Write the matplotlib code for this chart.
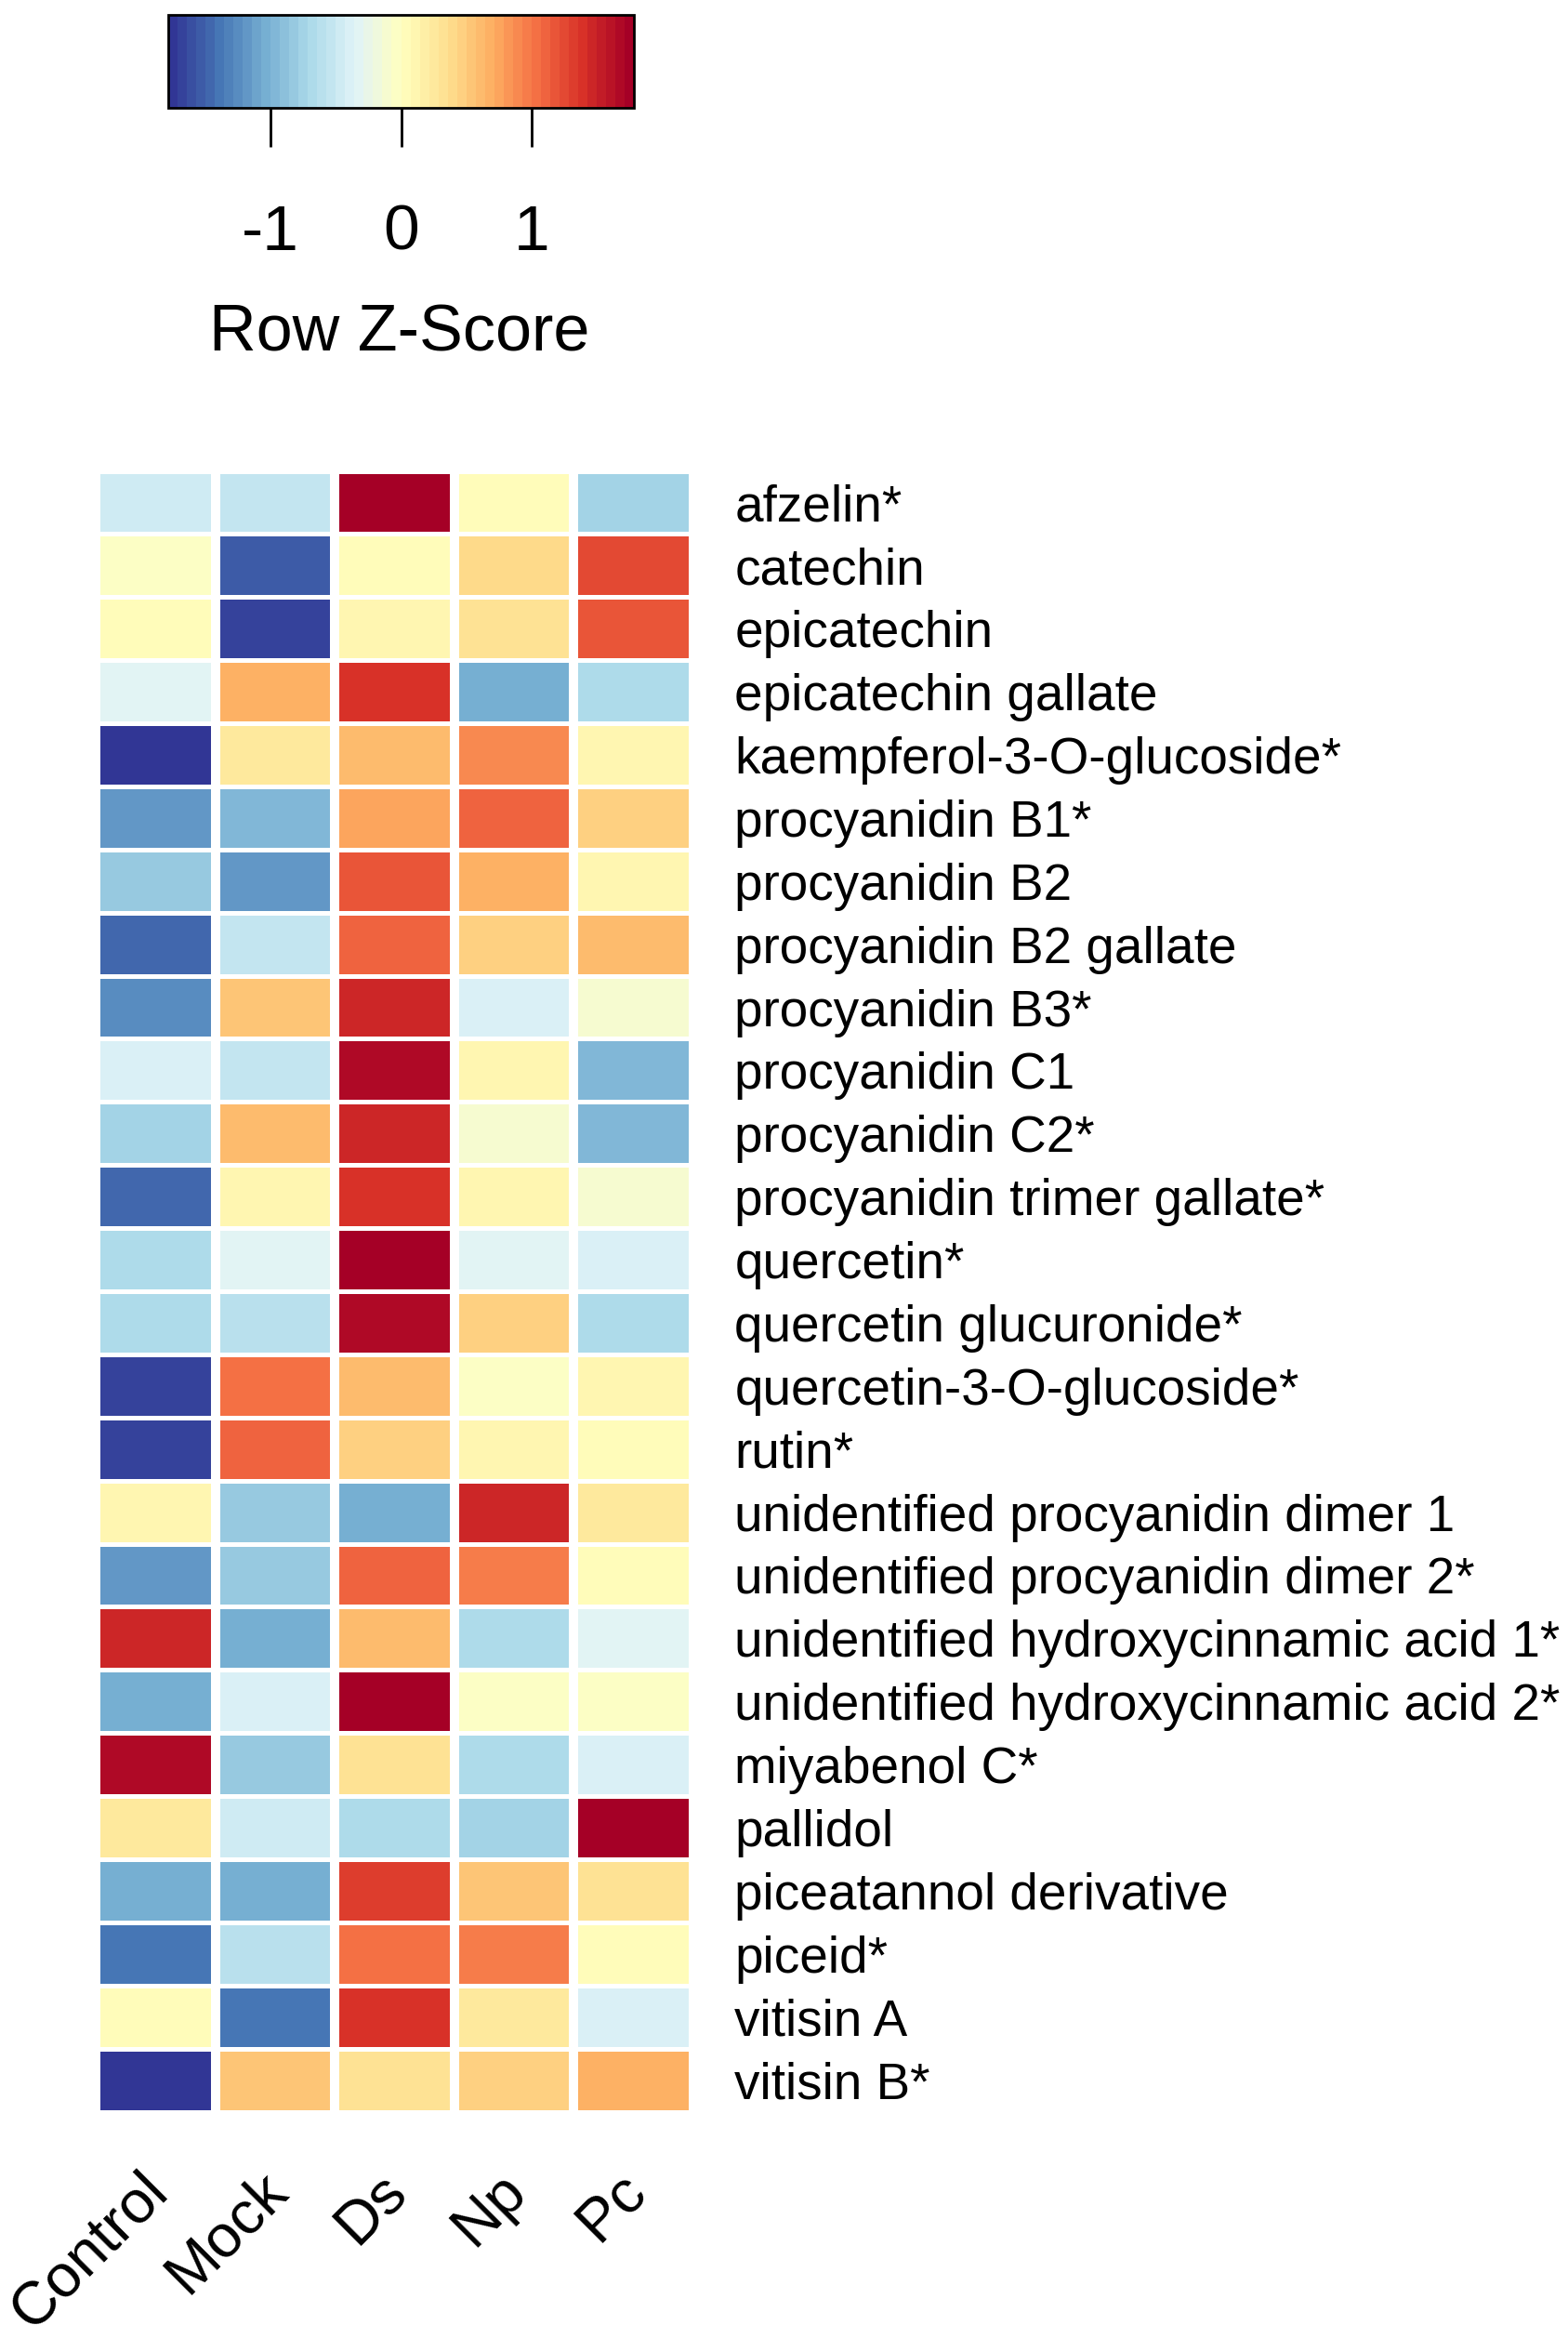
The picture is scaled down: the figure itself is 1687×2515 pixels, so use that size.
import matplotlib.pyplot as plt
import numpy as np
from matplotlib.colors import ListedColormap, Normalize
from matplotlib.transforms import ScaledTranslation

plt.rcParams['font.family'] = ['Liberation Sans', 'DejaVu Sans']

# ----- data (row z-scores) -----
groups = ["Control", "Mock", "Ds", "Np", "Pc"]

compounds = [
    "afzelin*", "catechin", "epicatechin", "epicatechin gallate",
    "kaempferol-3-O-glucoside*", "procyanidin B1*", "procyanidin B2",
    "procyanidin B2 gallate", "procyanidin B3*", "procyanidin C1",
    "procyanidin C2*", "procyanidin trimer gallate*", "quercetin*",
    "quercetin glucuronide*", "quercetin-3-O-glucoside*", "rutin*",
    "unidentified procyanidin dimer 1", "unidentified procyanidin dimer 2*",
    "unidentified hydroxycinnamic acid 1*", "unidentified hydroxycinnamic acid 2*",
    "miyabenol C*", "pallidol", "piceatannol derivative", "piceid*",
    "vitisin A", "vitisin B*",
]

z_control = [-0.45, -0.07, 0.00, -0.34, -1.78, -1.17, -0.82, -1.46, -1.28, -0.36,
             -0.75, -1.46, -0.68, -0.68, -1.64, -1.70, 0.14, -1.17, 1.45, -1.03,
             1.64, 0.25, -1.03, -1.42, 0.04, -1.78]
z_mock = [-0.53, -1.53, -1.64, 0.71, 0.28, -0.96, -1.17, -0.53, 0.50, -0.53,
          0.57, 0.14, -0.34, -0.57, 1.00, 1.07, -0.82, -0.82, -1.03, -0.38,
          -0.82, -0.45, -1.03, -0.57, -1.42, 0.50]
z_ds = [1.78, 0.00, 0.14, 1.42, 0.57, 0.78, 1.18, 1.07, 1.45, 1.64,
        1.45, 1.40, 1.78, 1.64, 0.64, 0.43, -1.03, 1.07, 0.57, 1.71,
        0.32, -0.68, 1.32, 1.00, 1.40, 0.32]
z_np = [0.07, 0.36, 0.32, -1.03, 0.89, 1.07, 0.71, 0.43, -0.38, 0.14,
        -0.14, 0.10, -0.34, 0.43, -0.05, 0.14, 1.45, 0.96, -0.68, -0.07,
        -0.68, -0.75, 0.50, 0.96, 0.28, 0.43]
z_pc = [-0.75, 1.25, 1.18, -0.68, 0.14, 0.43, 0.14, 0.64, -0.14, -0.96,
        -0.96, -0.14, -0.38, -0.68, 0.14, 0.07, 0.25, 0.07, -0.34, -0.07,
        -0.38, 1.71, 0.32, 0.07, -0.38, 0.71]

zlim = 1.78
ticks = [-1, 0, 1]

matrix = np.column_stack([z_control, z_mock, z_ds, z_np, z_pc])

# ----- figure -----
W, H, DPI = 1687, 2515, 100
fig = plt.figure(figsize=(W / DPI, H / DPI), dpi=DPI)

def px_axes(left, top, right, bottom):
    # axes from pixel box (origin top-left)
    return fig.add_axes([left / W, 1 - bottom / H, (right - left) / W, (bottom - top) / H])

cmap = ListedColormap(plt.get_cmap("RdYlBu_r")(np.linspace(0, 1, 50)))
norm = Normalize(vmin=-zlim, vmax=zlim)

# heatmap
ax = px_axes(103, 506.5, 746, 2271.5)
n_rows, n_cols = matrix.shape
mesh = ax.pcolormesh(np.arange(n_cols + 1), np.arange(n_rows + 1), matrix,
                     cmap=cmap, norm=norm)
ax.set_xlim(0, n_cols)
ax.set_ylim(n_rows, 0)

# white separators between cells
for x in range(n_cols + 1):
    ax.axvline(x, color="white", lw=7.2)
for y in range(n_rows + 1):
    ax.axhline(y, color="white", lw=3.6)

for s in ax.spines.values():
    s.set_visible(False)

ax.yaxis.tick_right()
ax.set_yticks(np.arange(n_rows) + 0.5)
ax.set_yticklabels(compounds, fontsize=39.5)
ax.tick_params(axis="y", length=0, pad=32)

ax.set_xticks(np.arange(n_cols) + 0.5)
ax.set_xticklabels(groups, fontsize=47, rotation=45, ha="right", va="top",
                   rotation_mode="anchor")
ax.tick_params(axis="x", length=0, pad=39)
shift = ScaledTranslation(-18 / DPI, 0, fig.dpi_scale_trans)
for lab in ax.get_xticklabels():
    lab.set_transform(lab.get_transform() + shift)

# colour key
cax = px_axes(181, 16, 682, 116)
cb = fig.colorbar(mesh, cax=cax, orientation="horizontal", ticks=ticks)
cb.outline.set_linewidth(2)
cax.tick_params(axis="x", length=30, width=2, pad=44, labelsize=50)
cax.set_xticklabels(["-1", "0", "1"])
fig.text(430 / W, 1 - 360 / H, "Row Z-Score", fontsize=50.5, ha="center", va="center")

plt.savefig("out.png", dpi=DPI)
